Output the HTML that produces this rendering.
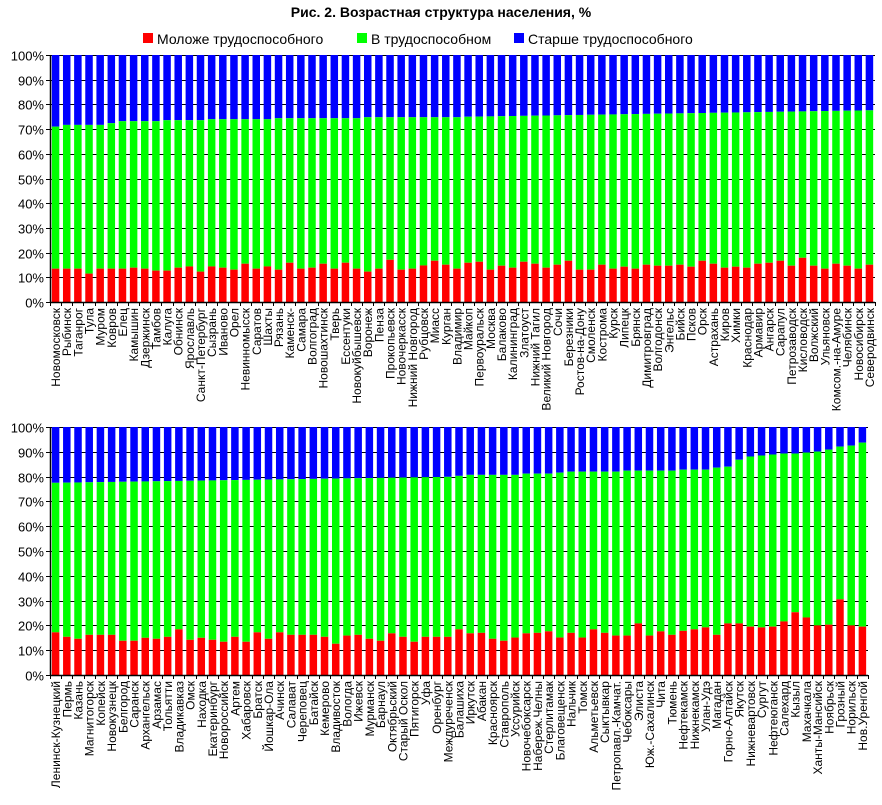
<!DOCTYPE html>
<html><head><meta charset="utf-8"><style>
body{margin:0;background:#fff;}
svg{display:block;font-family:"Liberation Sans",Arial,sans-serif;}
</style></head><body>
<svg id="s" width="882" height="805" xmlns="http://www.w3.org/2000/svg">
<text x="441" y="17" text-anchor="middle" font-size="14" font-weight="bold">Рис. 2. Возрастная структура населения, %</text>
<rect x="143" y="33" width="10" height="10" fill="#f00"/><text x="157" y="44" font-size="14">Моложе трудоспособного</text>
<rect x="357" y="33" width="10" height="10" fill="#0f0"/><text x="371" y="44" font-size="14">В трудоспособном</text>
<rect x="514" y="33" width="10" height="10" fill="#00f"/><text x="528" y="44" font-size="14">Старше трудоспособного</text>
</svg>
<script>
var s=document.getElementById('s'),NS='http://www.w3.org/2000/svg';
function el(t,a,txt){var e=document.createElementNS(NS,t);for(var k in a)e.setAttribute(k,a[k]);if(txt)e.textContent=txt;s.appendChild(e);return e;}
var L1="Новомосковск,Рыбинск,Таганрог,Тула,Муром,Ковров,Елец,Камышин,Дзержинск,Тамбов,Калуга,Обнинск,Ярославль,Санкт-Петербург,Сызрань,Иваново,Орел,Невинномысск,Саратов,Шахты,Рязань,Каменск-,Самара,Волгоград,Новошахтинск,Тверь,Ессентуки,Новокуйбышевск,Воронеж,Пенза,Прокопьевск,Новочеркасск,Нижний Новгород,Рубцовск,Миасс,Курган,Владимир,Майкоп,Первоуральск,Москва,Балаково,Калининград,Златоуст,Нижний Тагил,Великий Новгород,Сочи,Березники,Ростов-на-Дону,Смоленск,Кострома,Курск,Липецк,Брянск,Димитровград,Волгодонск,Энгельс,Бийск,Псков,Орск,Астрахань,Киров,Химки,Краснодар,Армавир,Ангарск,Сарапул,Петрозаводск,Кисловодск,Волжский,Ульяновск,Комсом.-на-Амуре,Челябинск,Новосибирск,Северодвинск".split(",");
var R1=[13.5,13.5,13.5,11.5,13.5,13.5,13.5,13.9,13.5,12.7,12.7,13.9,14.4,12.3,14.4,13.9,13.1,15.5,13.5,14.4,13.1,15.9,13.5,13.9,15.5,13.5,15.9,13.5,12.3,13.5,17.1,13.1,13.5,14.8,16.7,15.1,13.5,
15.9,16.3,13.1,14.7,13.9,16.3,15.5,13.9,15.1,16.7,13.1,13.1,15.1,13.5,14.3,13.5,15.1,14.7,14.7,15.1,14.3,16.7,15.5,13.9,14.3,13.9,15.5,15.9,16.7,14.7,17.9,14.7,13.5,15.5,14.7,13.5,15.1];
var B1=[];for(var i=0;i<74;i++){var v;if(i==0)v=71;else if(i<5)v=71.7;else if(i<6)v=72.4;else if(i<10)v=73.2;else if(i<14)v=73.6;else if(i<20)v=74.0;else if(i<28)v=74.4;else if(i<37)v=74.8;else v=75+(i-37)*2.6/36;B1.push(v);}
var L2="Ленинск-Кузнецкий,Пермь,Казань,Магнитогорск,Копейск,Новокузнецк,Белгород,Саранск,Архангельск,Арзамас,Тольятти,Владикавказ,Омск,Находка,Екатеринбург,Новороссийск,Артем,Хабаровск,Братск,Йошкар-Ола,Ачинск,Салават,Череповец,Батайск,Кемерово,Владивосток,Вологда,Ижевск,Мурманск,Барнаул,Октябрьский,Старый Оскол,Пятигорск,Уфа,Оренбург,Междуреченск,Балашиха,Иркутск,Абакан,Красноярск,Ставрополь,Уссурийск,Новочебоксарск,Набереж.Челны,Стерлитамак,Благовещенск,Нальчик,Томск,Альметьевск,Сыктывкар,Петропавл.-Камчат.,Чебоксары,Элиста,Юж.-Сахалинск,Чита,Тюмень,Нефтекамск,Нижнекамск,Улан-Удэ,Магадан,Горно-Алтайск,Якутск,Нижневартовск,Сургут,Нефтеюганск,Салехард,Кызыл,Махачкала,Ханты-Мансийск,Ноябрьск,Грозный,Норильск,Нов.Уренгой".split(",");
var R2=[17.2,15.4,14.6,16.2,16.2,16.2,13.8,13.8,15.0,14.6,15.4,18.4,14.2,15.0,14.2,13.4,15.4,13.4,17.2,14.6,17.2,16.2,16.2,16.2,15.4,12.6,15.9,16.2,14.6,13.8,16.8,15.4,13.4,15.4,15.4,15.4,18.4,
16.8,17.0,14.6,13.8,15.1,16.8,17.0,17.6,15.1,17.0,15.1,18.4,17.0,15.9,15.9,20.8,15.9,17.6,16.2,17.8,18.4,19.2,16.2,20.8,20.8,19.5,19.2,19.5,21.6,25.3,23.2,20.0,20.3,30.5,20.0,19.5];
var T=[79.9,80.3,80.7,80.7,80.7,80.7,80.7,81.2,81.2,81.2,81.6,82.0,82.0,82.0,82.0,82.0,82.4,82.4,82.4,82.4,82.4,82.8,82.8,82.8,83.6,84.0,86.8,88.1,88.5,88.9,89.3,89.3,89.7,90.1,90.9,92.1,92.5,93.7];
var B2=[];for(var i=0;i<73;i++){B2.push(i<35?77.5+i*2.4/35:T[i-35]);}
function chart(top,bot,x0,x1,L,R,B){
 var n=L.length,w=(x1-x0)/n,h=(bot-top)/100;
 for(var k=0;k<=10;k++){var y=Math.round(bot-k*10*h)+0.5;
  el('line',{x1:x0-4,x2:x1,y1:y,y2:y,stroke:'#000','stroke-width':1});
  el('text',{x:44,y:y+5,'text-anchor':'end','font-size':13},(k*10)+'%');}
 for(var i=0;i<n;i++){var bx=x0+i*w+(w-7.5)/2;
  var yr=bot-R[i]*h,yg=bot-B[i]*h;
  el('rect',{x:bx,y:top,width:7.5,height:yg-top,fill:'#00f'});
  el('rect',{x:bx,y:yg,width:7.5,height:yr-yg,fill:'#0f0'});
  el('rect',{x:bx,y:yr,width:7.5,height:bot-yr,fill:'#f00'});
  var cx=x0+(i+0.5)*w+4.5;
  el('text',{x:0,y:0,transform:'translate('+cx+','+(bot+6)+') rotate(-90)','text-anchor':'end','font-size':12},L[i]);}
 for(var i=0;i<=n;i++){var tx=Math.round(x0+i*w)+0.5;el('line',{x1:tx,x2:tx,y1:bot,y2:bot+4,stroke:'#000'});}
 el('line',{x1:x0+0.5,x2:x0+0.5,y1:top,y2:bot+1,stroke:'#000','stroke-width':1.5});
 el('line',{x1:x0,x2:x1,y1:Math.round(bot)+0.5,y2:Math.round(bot)+0.5,stroke:'#000','stroke-width':1.5});
}
chart(55,302,50,875,L1,R1,B1);
chart(427,675,50,868,L2,R2,B2);
</script>
</body></html>
